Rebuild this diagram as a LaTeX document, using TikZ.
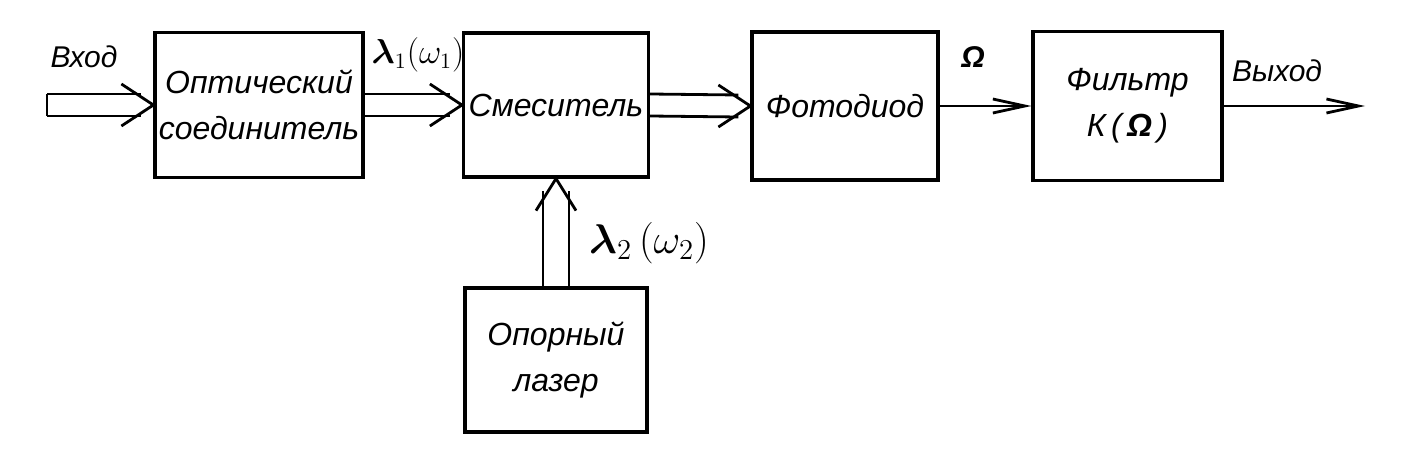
\documentclass[tikz,border=0pt]{standalone}
\usepackage{amsmath}
\usepackage{fontspec}
\setmainfont{Liberation Sans}
\usetikzlibrary{arrows.meta}

\begin{document}
\begin{tikzpicture}[x = 0.5pt, y = -0.5pt]
\tikzstyle{every node} = [font = \itshape\fontsize{16}{23}\selectfont, align = center, inner sep = 0pt]
\tikzstyle{block} = [draw, line width = 1.6pt]
\tikzstyle{wire} = [line width = 1.4pt]
\tikzstyle{barb} = [line width = 1.4pt, -{Straight Barb[length = 16pt, width = 7pt]}]
\tikzstyle{label} = [font = \itshape\fontsize{15}{18}\selectfont]

\useasboundingbox (0, 0) rectangle (1408, 465);

\draw (259, 105) node[block, minimum width = 104pt, minimum height = 72.5pt] (1) {Оптический\\соединитель};
\draw (556, 105) node[block, minimum width = 92.5pt, minimum height = 72pt] (2) {Смеситель};
\draw (845, 106) node[block, minimum width = 93pt, minimum height = 74pt] (3) {Фотодиод};
\draw (1127.5, 106) node[block, minimum width = 94.5pt, minimum height = 74.5pt] (4) {Фильтр\\К\,(\,\textbf{Ω}\,)};
\draw (556, 360) node[block, minimum width = 91pt, minimum height = 72pt] (5) {Опорный\\лазер};
\coordinate (0) at (47, 105);
\coordinate (6) at (1365, 106);

\draw (84, 57) node[label] (7) {Вход};
\draw (418, 55) node (8) {$\boldsymbol{\lambda}_1(\omega_1)$};
\draw (973, 57) node[label] (9) {\textbf{Ω}};
\draw (1277, 71) node[label] (10) {Выход};
\draw (649, 243) node[font = \fontsize{20}{24}\selectfont] (11) {$\boldsymbol{\lambda}_2\,(\omega_2)$};

% input
\draw[wire] ([yshift = 5.5pt]0) -- ([yshift = -5.5pt]0);
\draw[wire] ([yshift = 5.5pt]0) -- ([xshift = -6pt, yshift = 5.5pt]1.west);
\draw[wire] ([yshift = -5.5pt]0) -- ([xshift = -6pt, yshift = -5.5pt]1.west);
\draw[wire] ([xshift = -16pt, yshift = 10.5pt]1.west) -- (1.west) -- ([xshift = -16pt, yshift = -10.5pt]1.west);

\draw[wire] ([yshift = 5.5pt]1.east) -- ([xshift = -6pt, yshift = 5.5pt]2.west);
\draw[wire] ([yshift = -5.5pt]1.east) -- ([xshift = -6pt, yshift = -5.5pt]2.west);
\draw[wire] ([xshift = -16pt, yshift = 10.5pt]2.west) -- (2.west) -- ([xshift = -16pt, yshift = -10.5pt]2.west);

\draw[wire] ([yshift = 5.5pt]2.east) -- ([xshift = -6pt, yshift = 5.5pt]3.west);
\draw[wire] ([yshift = -5.5pt]2.east) -- ([xshift = -6pt, yshift = -5.5pt]3.west);
\draw[wire] ([xshift = -16pt, yshift = 10.5pt]3.west) -- (3.west) -- ([xshift = -16pt, yshift = -10.5pt]3.west);

% reference laser
\draw[wire] ([xshift = -6.5pt]5.north) -- ([xshift = -6.5pt, yshift = -6pt]2.south);
\draw[wire] ([xshift = 6.5pt]5.north) -- ([xshift = 6.5pt, yshift = -6pt]2.south);
\draw[wire] ([xshift = -10pt, yshift = -16pt]2.south) -- (2.south) -- ([xshift = 10pt, yshift = -16pt]2.south);

\draw[barb] (3.east) -- (4.west);
\draw[barb] (4.east) -- (6);
\end{tikzpicture}
\end{document}
